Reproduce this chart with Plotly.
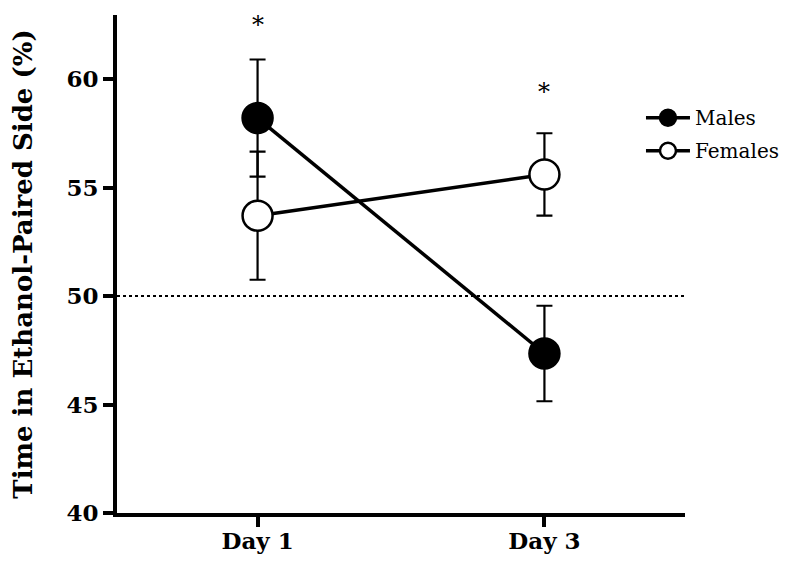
import plotly.graph_objects as go

days = ["Day 1", "Day 3"]
males = [58.2, 47.35]
males_err = [2.7, 2.2]
females = [53.7, 55.6]
females_err = [2.95, 1.9]
sig_days = ["Day 1", "Day 3"]
sig_y = [62.5, 59.4]
chance_level = 50
y_ticks = [40, 45, 50, 55, 60]

fig = go.Figure()
fig.add_trace(go.Scatter(
    x=days, y=males, name="Males", mode="lines+markers", legendgroup="m",
    line=dict(color="black", width=3.5),
    marker=dict(size=30, color="black", line=dict(color="black", width=2.5)),
    error_y=dict(type="data", array=males_err, color="black", thickness=2.2, width=8),
    cliponaxis=False,
))
fig.add_trace(go.Scatter(
    x=days, y=females, name="Females", mode="lines+markers", legendgroup="f",
    line=dict(color="black", width=3.5),
    marker=dict(size=30, color="white", line=dict(color="black", width=2.5)),
    error_y=dict(type="data", array=females_err, color="black", thickness=2.2, width=8),
    cliponaxis=False,
))

fig.add_shape(type="line", xref="paper", yref="y", x0=0, x1=1,
              y0=chance_level, y1=chance_level,
              line=dict(color="black", width=2, dash="dot"), layer="below")

for d, yv in zip(sig_days, sig_y):
    fig.add_annotation(x=d, y=yv, text="*", showarrow=False,
                       font=dict(family="DejaVu Serif", size=24, color="black"))

fig.update_layout(
    width=784, height=550, autosize=False,
    margin=dict(l=109, r=107, t=7, b=45),
    paper_bgcolor="white", plot_bgcolor="white",
    showlegend=True,
    legend=dict(x=0.9225, y=0.833, xanchor="left", yanchor="top",
                font=dict(family="DejaVu Serif", size=20, color="black"),
                bgcolor="rgba(0,0,0,0)", borderwidth=0, itemsizing="trace",
                tracegroupgap=4, itemwidth=44),
    font=dict(family="DejaVu Serif", color="black"),
)
fig.update_xaxes(
    type="category", range=[-0.49, 1.49], automargin=False,
    showline=True, linecolor="black", linewidth=4,
    ticks="outside", ticklen=10, tickwidth=4, tickcolor="black",
    showgrid=False, zeroline=False, ticklabelstandoff=-6,
    tickfont=dict(family="DejaVu Serif", size=23, color="black", weight="bold"),
)
fig.update_yaxes(
    range=[40, 62.95], tickvals=y_ticks, automargin=False,
    showline=True, linecolor="black", linewidth=4,
    ticks="outside", ticklen=10, tickwidth=4, tickcolor="black",
    showgrid=False, zeroline=False,
    tickfont=dict(family="DejaVu Serif", size=23, color="black", weight="bold"),
    title=dict(text="Time in Ethanol-Paired Side (%)", standoff=30,
               font=dict(family="DejaVu Serif", size=26, color="black", weight="bold")),
)

fig.write_html("out.html", config={"responsive": False})
